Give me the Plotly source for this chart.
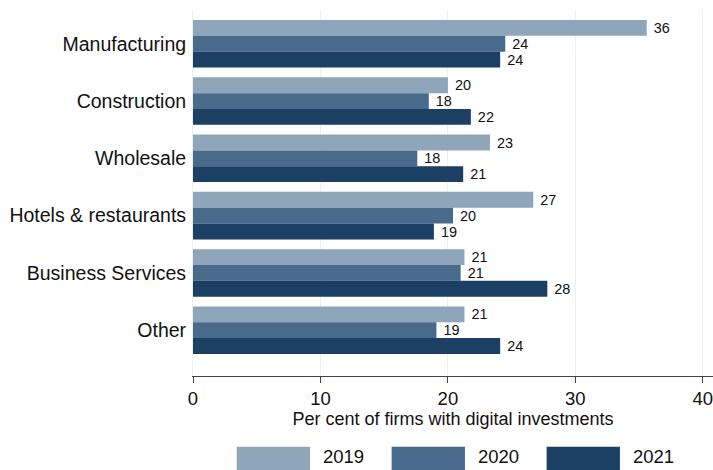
import plotly.graph_objects as go

# Sectors and share of firms with digital investments (%)
sectors = ["Manufacturing", "Construction", "Wholesale",
           "Hotels & restaurants", "Business Services", "Other"]
years = ["2019", "2020", "2021"]
v2019 = [35.6, 20.0, 23.3, 26.7, 21.3, 21.3]
v2020 = [24.5, 18.5, 17.6, 20.4, 21.0, 19.1]
v2021 = [24.1, 21.8, 21.2, 18.9, 27.8, 24.1]
xticks = [0, 10, 20, 30, 40]

colors = ["#8ea5ba", "#486a8b", "#1c3f64"]
font = "Arial, Liberation Sans, sans-serif"

fig = go.Figure()
for yr, vals, col in zip(years, [v2019, v2020, v2021], colors):
    fig.add_trace(go.Bar(
        y=sectors, x=vals, name=yr, orientation="h",
        marker=dict(color=col, line=dict(width=0)),
        text=[f"\u00a0{round(v)}" for v in vals],
        textposition="outside", cliponaxis=False,
        textfont=dict(size=15.5, color="#111111", family=font),
        showlegend=False,
    ))

# legend drawn as big swatches like the original
sw_x = [0.084, 0.382, 0.680]
for x0, yr, col in zip(sw_x, years, colors):
    fig.add_shape(type="rect", xref="paper", yref="paper",
                  x0=x0, x1=x0 + 0.141, y0=-0.27, y1=-0.193,
                  fillcolor=col, line=dict(width=0))
    fig.add_annotation(xref="paper", yref="paper", x=x0 + 0.162, y=-0.221,
                       text=yr, showarrow=False, xanchor="left", yanchor="middle",
                       font=dict(size=18.5, color="#111111", family=font))

fig.update_layout(
    width=713, height=470,
    barmode="group", bargap=0.17, bargroupgap=0,
    plot_bgcolor="white", paper_bgcolor="white",
    margin=dict(l=193, r=0, t=10, b=94),
    font=dict(family=font, size=18, color="#111111"),
    xaxis=dict(range=[0, 40.8], tickvals=xticks, showgrid=True,
               gridcolor="#e8f0f2", gridwidth=1, zeroline=False,
               showline=True, linecolor="#444444", linewidth=1,
               ticks="outside", ticklen=6, tickcolor="#444444",
               tickfont=dict(size=18.5), automargin=False,
               ticklabeloverflow="allow",
               title=dict(text="Per cent of firms with digital investments",
                          font=dict(size=18), standoff=0)),
    yaxis=dict(range=[5.8, -0.59], showgrid=False, zeroline=False,
               showline=True, linecolor="#e8f0f2", linewidth=1,
               ticks="", ticklabelstandoff=2, tickfont=dict(size=19.5),
               automargin=False),
)

fig.write_html("out.html", config={"displayModeBar": False},
               post_script="document.body.style.margin='0';")
